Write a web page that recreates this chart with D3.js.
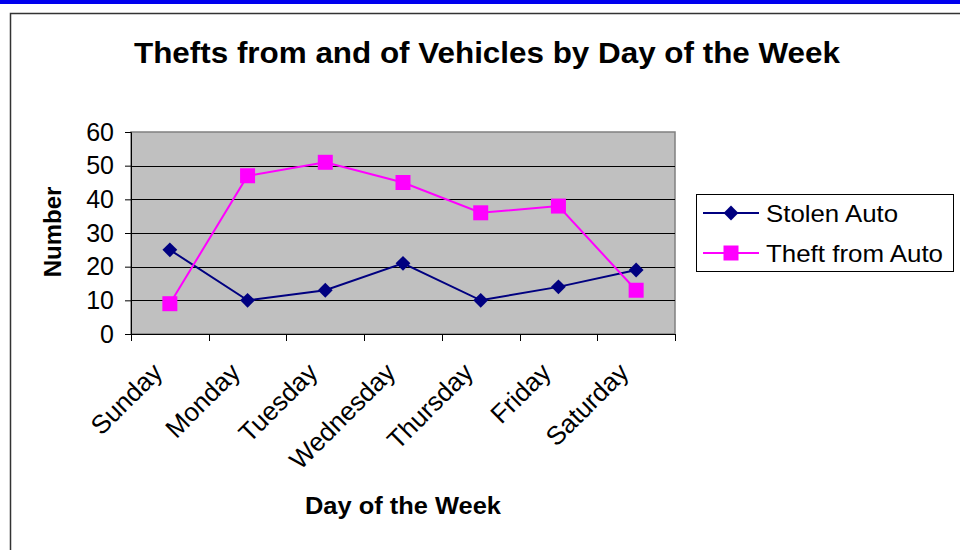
<!DOCTYPE html>
<html>
<head>
<meta charset="utf-8">
<script src="https://cdn.jsdelivr.net/npm/d3@7"></script>
<style>
  body { margin: 0; background: #fff; }
  svg { display: block; font-family: "Liberation Sans", Arial, sans-serif; }
</style>
</head>
<body>
<div id="chart"></div>
<script>
const days = ["Sunday", "Monday", "Tuesday", "Wednesday", "Thursday", "Friday", "Saturday"];
const stolenAuto = [25, 10, 13, 21, 10, 14, 19];
const theftFromAuto = [9, 47, 51, 45, 36, 38, 13];
const yTicks = [0, 10, 20, 30, 40, 50, 60];

const series = [
  { name: "Stolen Auto", values: stolenAuto, color: "#000080", marker: "diamond" },
  { name: "Theft from Auto", values: theftFromAuto, color: "#ff00ff", marker: "square" }
];

const width = 960, height = 550;
const plot = { left: 131, right: 675, top: 132, bottom: 334 };

const svg = d3.select("#chart").append("svg")
  .attr("width", width)
  .attr("height", height);

// blue strip + outer frame
svg.append("rect").attr("x", 0).attr("y", 0).attr("width", width).attr("height", 4).attr("fill", "#0000ee");
svg.append("rect")
  .attr("x", 10.5).attr("y", 13.5)
  .attr("width", 980).attr("height", 600)
  .attr("fill", "#fff").attr("stroke", "#333").attr("stroke-width", 1.5);

const x = d3.scaleBand().domain(days).range([plot.left, plot.right]);
const y = d3.scaleLinear().domain([0, 60]).range([plot.bottom, plot.top]);

// plot background
svg.append("rect")
  .attr("x", plot.left).attr("y", plot.top)
  .attr("width", plot.right - plot.left).attr("height", plot.bottom - plot.top)
  .attr("fill", "#c0c0c0").attr("stroke", "#808080").attr("stroke-width", 1.5);

// gridlines
svg.append("g").selectAll("line")
  .data(yTicks.filter(t => t > 0 && t < 60))
  .enter().append("line")
  .attr("x1", plot.left).attr("x2", plot.right)
  .attr("y1", d => Math.round(y(d)) + 0.5).attr("y2", d => Math.round(y(d)) + 0.5)
  .attr("stroke", "#000").attr("stroke-width", 1);

// y axis
const yAxis = svg.append("g")
  .attr("transform", `translate(${plot.left},0)`)
  .call(d3.axisLeft(y).tickValues(yTicks).tickSize(6).tickPadding(11));
yAxis.select(".domain").attr("stroke", "#000");
yAxis.selectAll("text").attr("font-size", 25).attr("fill", "#000")
  .attr("font-family", "Liberation Sans, Arial, sans-serif");

// x axis: ticks at band boundaries
svg.append("line")
  .attr("x1", plot.left).attr("x2", plot.right)
  .attr("y1", plot.bottom + 0.5).attr("y2", plot.bottom + 0.5)
  .attr("stroke", "#000");
const boundaries = days.map(d => x(d)).concat([plot.right]);
svg.append("g").selectAll("line")
  .data(boundaries)
  .enter().append("line")
  .attr("x1", d => Math.round(d) + 0.5).attr("x2", d => Math.round(d) + 0.5)
  .attr("y1", plot.bottom).attr("y2", plot.bottom + 7)
  .attr("stroke", "#000");

svg.append("g").selectAll("text")
  .data(days)
  .enter().append("text")
  .attr("transform", d => `translate(${x(d) + x.bandwidth() / 2 - 6},${plot.bottom + 40}) rotate(-45)`)
  .attr("text-anchor", "end")
  .attr("font-size", 26)
  .attr("fill", "#000")
  .text(d => d);

// lines and markers
const line = d3.line()
  .x((d, i) => x(days[i]) + x.bandwidth() / 2)
  .y(d => y(d));

const diamond = d3.symbol().type(d3.symbolDiamond2).size(140);

series.forEach(s => {
  svg.append("path")
    .datum(s.values)
    .attr("d", line)
    .attr("fill", "none")
    .attr("stroke", s.color)
    .attr("stroke-width", 2);

  const g = svg.append("g");
  s.values.forEach((v, i) => {
    const cx = x(days[i]) + x.bandwidth() / 2, cy = y(v);
    if (s.marker === "diamond") {
      g.append("path").attr("d", diamond).attr("transform", `translate(${cx},${cy})`).attr("fill", s.color);
    } else {
      g.append("rect").attr("x", cx - 7.5).attr("y", cy - 7.5).attr("width", 15).attr("height", 15).attr("fill", s.color);
    }
  });
});

// titles
svg.append("text")
  .attr("x", 487).attr("y", 63)
  .attr("text-anchor", "middle")
  .attr("font-size", 30).attr("font-weight", "bold")
  .attr("textLength", 706).attr("lengthAdjust", "spacingAndGlyphs")
  .text("Thefts from and of Vehicles by Day of the Week");

svg.append("text")
  .attr("transform", "translate(61,232) rotate(-90)")
  .attr("text-anchor", "middle")
  .attr("font-size", 24).attr("font-weight", "bold")
  .text("Number");

svg.append("text")
  .attr("x", 403).attr("y", 514)
  .attr("text-anchor", "middle")
  .attr("font-size", 24).attr("font-weight", "bold")
  .attr("textLength", 196).attr("lengthAdjust", "spacingAndGlyphs")
  .text("Day of the Week");

// legend
const legend = svg.append("g").attr("transform", "translate(696,194)");
legend.append("rect")
  .attr("x", 0.5).attr("y", 0.5).attr("width", 257).attr("height", 77)
  .attr("fill", "#fff").attr("stroke", "#000").attr("stroke-width", 1);
const legendWidths = [132, 177];
series.forEach((s, i) => {
  const ly = 19 + i * 40;
  legend.append("line").attr("x1", 7).attr("x2", 63).attr("y1", ly).attr("y2", ly)
    .attr("stroke", s.color).attr("stroke-width", 2);
  if (s.marker === "diamond") {
    legend.append("path").attr("d", diamond).attr("transform", `translate(35,${ly})`).attr("fill", s.color);
  } else {
    legend.append("rect").attr("x", 27.5).attr("y", ly - 7.5).attr("width", 15).attr("height", 15).attr("fill", s.color);
  }
  legend.append("text").attr("x", 70).attr("y", ly + 9)
    .attr("font-size", 24)
    .attr("textLength", legendWidths[i]).attr("lengthAdjust", "spacingAndGlyphs")
    .text(s.name);
});
</script>
</body>
</html>
